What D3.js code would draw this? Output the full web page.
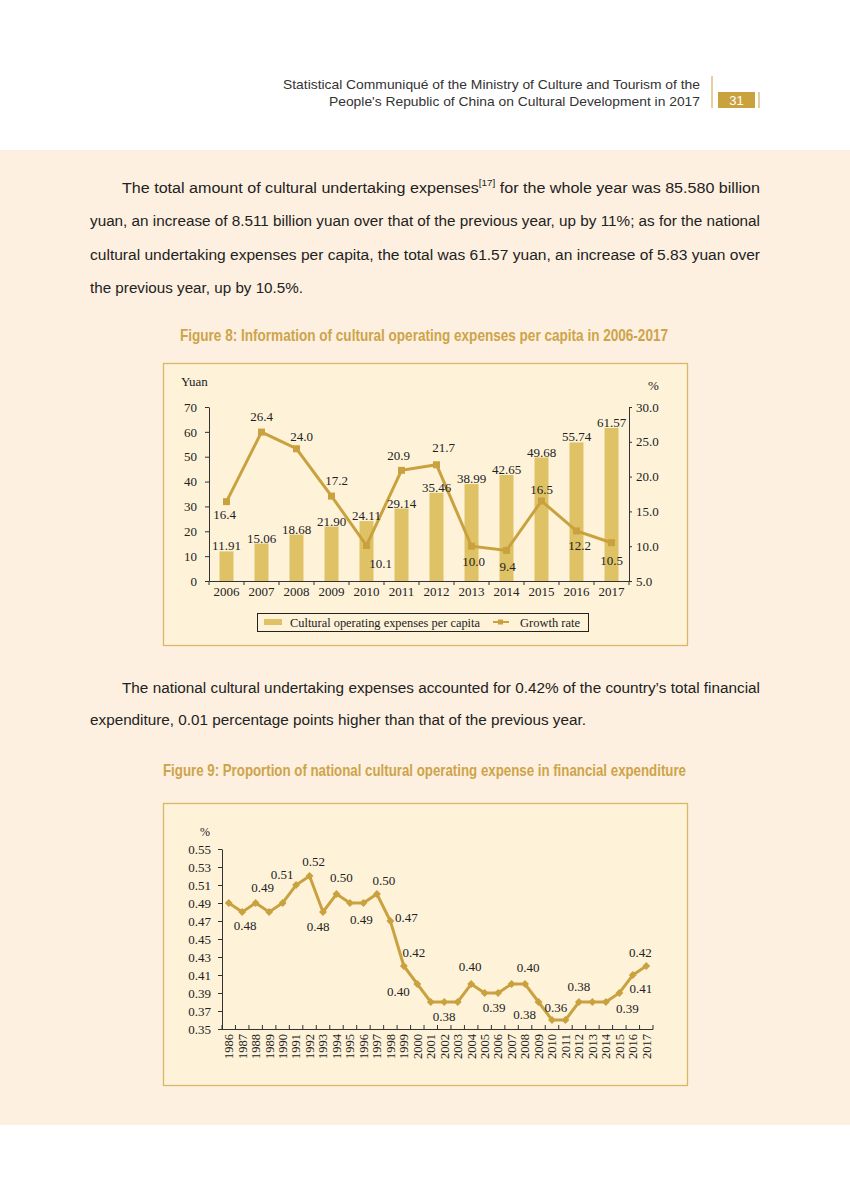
<!DOCTYPE html>
<html><head><meta charset="utf-8">
<script src="https://cdn.jsdelivr.net/npm/d3@7"></script>
<style>body{margin:0;background:#fff}svg{display:block}</style>
</head><body><svg id="page" width="850" height="1193"></svg>
<script>
// ---------- DATA ----------
const years8 = ["2006","2007","2008","2009","2010","2011","2012","2013","2014","2015","2016","2017"];
const expensePerCapita = [11.91,15.06,18.68,21.90,24.11,29.14,35.46,38.99,42.65,49.68,55.74,61.57];
const growthRate = [16.4,26.4,24.0,17.2,10.1,20.9,21.7,10.0,9.4,16.5,12.2,10.5];
const leftTicks8 = [0,10,20,30,40,50,60,70];
const rightTicks8 = [5,10,15,20,25,30];

const years9 = ["1986","1987","1988","1989","1990","1991","1992","1993","1994","1995","1996","1997","1998","1999","2000","2001","2002","2003","2004","2005","2006","2007","2008","2009","2010","2011","2012","2013","2014","2015","2016","2017"];
const proportion = [0.49,0.48,0.49,0.48,0.49,0.51,0.52,0.48,0.50,0.49,0.49,0.50,0.47,0.42,0.40,0.38,0.38,0.38,0.40,0.39,0.39,0.40,0.40,0.38,0.36,0.36,0.38,0.38,0.38,0.39,0.41,0.42];
const ticks9 = [0.35,0.37,0.39,0.41,0.43,0.45,0.47,0.49,0.51,0.53,0.55];
const labeledYears9 = ["1987","1988","1991","1992","1993","1994","1996","1997","1998","1999","2000","2002","2004","2006","2008","2009","2010","2012","2015","2016","2017"];

// ---------- LAYOUT / STYLE (not data) ----------
const growthLabelOffset = [[-2,13],[0,-16],[5,-12],[5,-16],[14,18],[-3,-15],[7,-17],[2,15],[1,16],[0,-12],[3,15],[0,18]];
const label9Offset = [[3,13],[7,-16],[-14,-11],[4,-15],[-5,14],[5,-17],[-2,16],[7,-14],[16,-4],[10,-14],[-19,7],[0,14],[-1,-18],[-4,14],[3,-17],[-14,12],[4,-13],[0,-16],[8,15],[8,13],[-6,-14]];

const BAR = "#dfc266", LINE = "#c9a13f", GOLD = "#c9a23e";
const SERIF = "'Liberation Serif','Times New Roman',serif";
const SANS = "'Liberation Sans',Arial,sans-serif";
const NARROW = "'Liberation Sans Narrow','Arial Narrow','Liberation Sans',sans-serif";

const svg = d3.select("#page");

// page background
svg.append("rect").attr("x",0).attr("y",0).attr("width",850).attr("height",1193).attr("fill","#fff");
svg.append("rect").attr("x",0).attr("y",150).attr("width",850).attr("height",975).attr("fill","#fdf0e0");

// header
const hdr = svg.append("g").attr("font-family",SANS).attr("font-size",13.5).attr("fill","#333");
hdr.append("text").attr("x",283).attr("y",89).attr("textLength",417).attr("lengthAdjust","spacingAndGlyphs").text("Statistical Communiqué of the Ministry of Culture and Tourism of the");
hdr.append("text").attr("x",329).attr("y",105.5).attr("textLength",371).attr("lengthAdjust","spacingAndGlyphs").text("People's Republic of China on Cultural Development in 2017");
svg.append("line").attr("x1",712).attr("x2",712).attr("y1",76).attr("y2",108).attr("stroke",GOLD).attr("stroke-width",1);
svg.append("rect").attr("x",718).attr("y",92).attr("width",37).attr("height",16).attr("fill",GOLD);
svg.append("text").attr("x",736.5).attr("y",105).attr("text-anchor","middle").attr("font-family",SANS).attr("font-size",13).attr("fill","#fff").text("31");
svg.append("line").attr("x1",759).attr("x2",759).attr("y1",92).attr("y2",108).attr("stroke",GOLD).attr("stroke-width",1);

// paragraphs
function para(x, y, len, parts){
  const t = svg.append("text").attr("x",x).attr("y",y).attr("font-family",SANS).attr("font-size",15.5).attr("fill","#222")
    .attr("textLength",len).attr("lengthAdjust","spacingAndGlyphs");
  parts.forEach(p=>{
    if(typeof p === "string") t.append("tspan").text(p);
    else t.append("tspan").attr("font-size",p.size).attr("dy",p.dy).text(p.t);
  });
  return t;
}
para(122,192.5,638,["The total amount of cultural undertaking expenses",{t:"[17]",size:9.5,dy:-7},{t:" for the whole year was 85.580 billion",size:15.5,dy:7}]);
para(90,226,670,["yuan, an increase of 8.511 billion yuan over that of the previous year, up by 11%; as for the national"]);
para(90,259.5,670,["cultural undertaking expenses per capita, the total was 61.57 yuan, an increase of 5.83 yuan over"]);
para(90,292.5,213,["the previous year, up by 10.5%."]);
para(122,692.5,638,["The national cultural undertaking expenses accounted for 0.42% of the country\u2019s total financial"]);
para(90,725,496,["expenditure, 0.01 percentage points higher than that of the previous year."]);

// titles
svg.append("text").attr("x",180).attr("y",340.5).attr("font-family",NARROW).attr("font-weight","bold").attr("font-size",16.5)
  .attr("fill","#cda44a").attr("textLength",488).attr("lengthAdjust","spacingAndGlyphs")
  .text("Figure 8:  Information of cultural operating expenses per capita in 2006-2017");
svg.append("text").attr("x",163).attr("y",775.5).attr("font-family",NARROW).attr("font-weight","bold").attr("font-size",16.5)
  .attr("fill","#cda44a").attr("textLength",523).attr("lengthAdjust","spacingAndGlyphs")
  .text("Figure 9:  Proportion of national cultural operating expense in financial expenditure");

// chart boxes
[[163,363,524,282],[163,803,524,282]].forEach(b=>{
  svg.append("rect").attr("x",b[0]+0.5).attr("y",b[1]+0.5).attr("width",b[2]).attr("height",b[3])
    .attr("fill","#fef3d9").attr("stroke","#d8b769").attr("stroke-width",1.3);
});

// ---------- CHART 8 ----------
const c8 = svg.append("g").attr("font-family",SERIF).attr("font-size",13).attr("fill","#222");
const x8 = d3.scaleBand().domain(years8).range([209,629]).paddingInner(0.6).paddingOuter(0.3);
const yL = d3.scaleLinear().domain([0,70]).range([581,407]);
const yR = d3.scaleLinear().domain([5,30]).range([581,407]);
const cx8 = d => x8(d) + x8.bandwidth()/2;

function styleAxis(g){
  g.selectAll("path,line").attr("stroke","#333").attr("stroke-width",1);
  g.selectAll("text").attr("font-family",SERIF).attr("font-size",13).attr("fill","#222");
}
c8.append("g").attr("transform","translate(209,0)")
  .call(d3.axisLeft(yL).tickValues(leftTicks8).tickSize(4).tickSizeOuter(0).tickPadding(8).tickFormat(d3.format("d")))
  .call(styleAxis);
c8.append("g").attr("transform","translate(629,0)")
  .call(d3.axisRight(yR).tickValues(rightTicks8).tickSize(3).tickSizeOuter(0).tickPadding(4).tickFormat(d3.format(".1f")))
  .call(styleAxis);
c8.append("g").attr("transform","translate(0,581)")
  .call(d3.axisBottom(x8).tickSize(0).tickSizeOuter(0).tickPadding(6))
  .call(styleAxis);
// category boundary ticks
c8.append("g").selectAll("line").data(d3.range(years8.length+1)).join("line")
  .attr("x1",i=>x8.range()[0]+i*x8.step()).attr("x2",i=>x8.range()[0]+i*x8.step())
  .attr("y1",581).attr("y2",585).attr("stroke","#333");

c8.append("text").attr("x",181).attr("y",386).text("Yuan");
c8.append("text").attr("x",648).attr("y",390).text("%");

// bars
c8.append("g").selectAll("rect").data(years8).join("rect")
  .attr("x",d=>x8(d)).attr("width",x8.bandwidth())
  .attr("y",(d,i)=>yL(expensePerCapita[i])).attr("height",(d,i)=>yL(0)-yL(expensePerCapita[i]))
  .attr("fill",BAR);
// line
const line8 = d3.line().x((d,i)=>cx8(years8[i])).y(d=>yR(d));
c8.append("path").datum(growthRate).attr("d",line8).attr("fill","none").attr("stroke",LINE).attr("stroke-width",3).attr("stroke-linejoin","miter");
c8.append("g").selectAll("rect").data(growthRate).join("rect")
  .attr("x",(d,i)=>cx8(years8[i])-3.5).attr("y",d=>yR(d)-3.5).attr("width",7).attr("height",7).attr("fill",LINE);
// bar labels
c8.append("g").attr("text-anchor","middle").selectAll("text").data(expensePerCapita).join("text")
  .attr("x",(d,i)=>cx8(years8[i])).attr("y",d=>yL(d)-5.5).attr("dy","0.35em").text(d=>d3.format(".2f")(d));
// growth labels
c8.append("g").attr("text-anchor","middle").selectAll("text").data(growthRate).join("text")
  .attr("x",(d,i)=>cx8(years8[i])+growthLabelOffset[i][0]).attr("y",(d,i)=>yR(d)+growthLabelOffset[i][1])
  .attr("dy","0.35em").text(d=>d3.format(".1f")(d));

// legend
const lg = c8.append("g").attr("font-size",12.5);
lg.append("rect").attr("x",257.5).attr("y",613.5).attr("width",331).attr("height",18).attr("fill","none").attr("stroke","#222").attr("stroke-width",1);
lg.append("rect").attr("x",264).attr("y",619).attr("width",18).attr("height",6).attr("fill",BAR);
lg.append("text").attr("x",290).attr("y",626.5).attr("textLength",190).attr("lengthAdjust","spacingAndGlyphs").text("Cultural operating expenses per capita");
lg.append("line").attr("x1",493).attr("x2",509).attr("y1",622).attr("y2",622).attr("stroke",LINE).attr("stroke-width",2);
lg.append("rect").attr("x",498).attr("y",619.5).attr("width",5).attr("height",5).attr("fill",LINE);
lg.append("text").attr("x",520).attr("y",626.5).attr("textLength",60).attr("lengthAdjust","spacingAndGlyphs").text("Growth rate");

// ---------- CHART 9 ----------
const c9 = svg.append("g").attr("font-family",SERIF).attr("font-size",13).attr("fill","#222");
const x9 = d3.scaleBand().domain(years9).range([222,653]).padding(0);
const y9 = d3.scaleLinear().domain([0.35,0.55]).range([1029,849]);
const cx9 = d => x9(d) + x9.bandwidth()/2;

c9.append("g").attr("transform","translate(222,0)")
  .call(d3.axisLeft(y9).tickValues(ticks9).tickSize(4).tickSizeOuter(0).tickPadding(7).tickFormat(d3.format(".2f")))
  .call(styleAxis);
c9.append("line").attr("x1",222).attr("x2",653).attr("y1",1029.5).attr("y2",1029.5).attr("stroke","#333");
c9.append("g").selectAll("line").data(d3.range(years9.length+1)).join("line")
  .attr("x1",i=>222+i*x9.step()).attr("x2",i=>222+i*x9.step())
  .attr("y1",1029.5).attr("y2",1025).attr("stroke","#333");
c9.append("g").attr("font-size",12.5).attr("text-anchor","end").selectAll("text").data(years9).join("text")
  .attr("transform",d=>`translate(${cx9(d)},1034) rotate(-90)`).attr("dy","0.35em").text(d=>d);
c9.append("text").attr("x",200).attr("y",836).attr("font-size",12).text("%");

const line9 = d3.line().x((d,i)=>cx9(years9[i])).y(d=>y9(d));
c9.append("path").datum(proportion).attr("d",line9).attr("fill","none").attr("stroke",LINE).attr("stroke-width",3);
c9.append("g").selectAll("path").data(proportion).join("path")
  .attr("d",d3.symbol().type(d3.symbolDiamond2).size(40))
  .attr("transform",(d,i)=>`translate(${cx9(years9[i])},${y9(d)})`).attr("fill",LINE);
c9.append("g").attr("text-anchor","middle").selectAll("text").data(labeledYears9).join("text")
  .attr("x",(d,k)=>cx9(d)+label9Offset[k][0])
  .attr("y",(d,k)=>y9(proportion[years9.indexOf(d)])+label9Offset[k][1])
  .attr("dy","0.35em").text(d=>d3.format(".2f")(proportion[years9.indexOf(d)]));
</script></body></html>
